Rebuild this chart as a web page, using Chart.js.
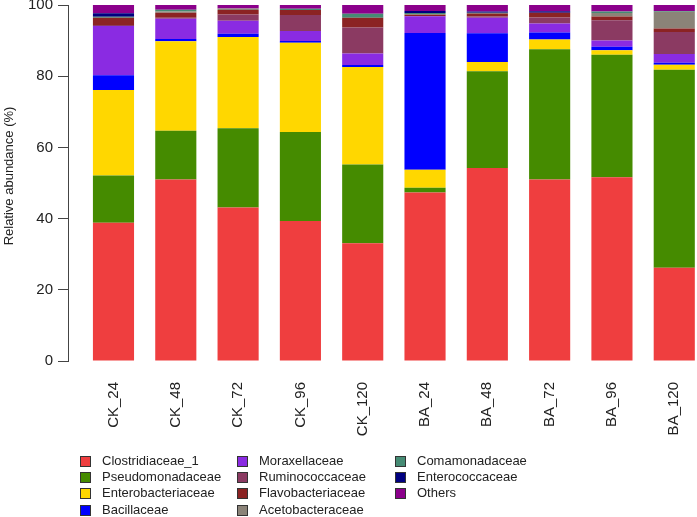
<!DOCTYPE html>
<html>
<head>
<meta charset="utf-8">
<script src="https://cdn.jsdelivr.net/npm/chart.js@4/dist/chart.umd.min.js"></script>
<style>
  html, body { margin: 0; padding: 0; background: #fff; overflow: hidden; }
  #wrap { position: relative; width: 697px; height: 517px; }
  #legend { position: absolute; left: 0; top: 0; width: 697px; height: 517px; pointer-events: none;
            font-family: "Liberation Sans", Arial, sans-serif; font-size: 13px; color: #222; }
  .li { position: absolute; height: 14px; line-height: 14px; white-space: nowrap; }
  .sw { position: absolute; left: 0; top: 2px; width: 9px; height: 9px; border: 1px solid #333; }
  .tx { position: absolute; left: 22px; top: 0; }
</style>
</head>
<body>
<div id="wrap">
  <canvas id="c" width="697" height="517"></canvas>
  <div id="legend"></div>
</div>
<script>
const categories = ["CK_24","CK_48","CK_72","CK_96","CK_120","BA_24","BA_48","BA_72","BA_96","BA_120"];
const yTicks = [0, 20, 40, 60, 80, 100];

const Clostridiaceae_1   = [38.8, 51.0, 43.1, 39.3, 33.1, 47.3, 54.2, 51.0, 51.6, 26.2];
const Pseudomonadaceae   = [13.3, 13.7, 22.3, 25.0, 22.1,  1.4, 27.2, 36.6, 34.4, 55.6];
const Enterobacteriaceae = [24.0, 25.1, 25.6, 25.1, 27.4,  5.05, 2.6,  2.7,  1.3,  1.4];
const Bacillaceae        = [ 4.2, 0.65, 0.95, 0.5, 0.55, 38.4, 8.05,  2.0,  1.0, 0.55];
const Moraxellaceae      = [13.8,  5.7, 3.65,  2.8,  3.2,  4.7,  4.4,  2.5,  1.7,  2.5];
const Ruminococcaceae    = [ 0.3,  0.3,  1.7,  4.5,  7.3,  0.0,  0.3,  1.7,  5.7,  6.2];
const Flavobacteriaceae  = [ 2.0,  1.4,  1.3,  1.4,  2.8,  0.4, 0.85,  1.3,  1.1, 0.95];
const Acetobacteraceae   = [ 0.0,  0.3,  0.4,  0.0,  0.0,  0.2,  0.0,  0.0, 0.95,  4.7];
const Comamonadaceae     = [ 0.3,  0.5,  0.0, 0.35,  1.1,  0.3,  0.2,  0.0, 0.45,  0.2];
const Enterococcaceae    = [0.95,  0.0,  0.0,  0.0,  0.0, 0.55,  0.4, 0.45,  0.0,  0.0];
const Others             = [ 2.35, 1.35, 1.0, 1.05, 2.45, 1.7,  1.8,  1.75, 1.8,  1.7];

const seriesNames = ["Clostridiaceae_1","Pseudomonadaceae","Enterobacteriaceae","Bacillaceae",
  "Moraxellaceae","Ruminococcaceae","Flavobacteriaceae","Acetobacteraceae",
  "Comamonadaceae","Enterococcaceae","Others"];
const seriesValues = [Clostridiaceae_1, Pseudomonadaceae, Enterobacteriaceae, Bacillaceae,
  Moraxellaceae, Ruminococcaceae, Flavobacteriaceae, Acetobacteraceae,
  Comamonadaceae, Enterococcaceae, Others];
const seriesColors = ["#EF3E3F","#458B00","#FFD700","#0000FF","#8A2BE2","#8B3A62",
  "#8B2323","#8B8378","#458B74","#000080","#8B008B"];

const FONT = '"Liberation Sans", Arial, sans-serif';

const datasets = seriesNames.map((name, k) => ({
  label: name,
  data: seriesValues[k].map((v, i) => ({ x: i, y: v })),
  backgroundColor: seriesColors[k],
  borderWidth: 0,
  barPercentage: 0.66,
  categoryPercentage: 1.0
}));

// draws the y-axis title where the reference puts it
const yTitlePlugin = {
  id: 'yTitle',
  afterDraw(chart, args, opts) {
    const ctx = chart.ctx;
    ctx.save();
    ctx.translate(opts.x, opts.y);
    ctx.rotate(-Math.PI / 2);
    ctx.font = '13px ' + FONT;
    ctx.fillStyle = '#222';
    ctx.textAlign = 'center';
    ctx.textBaseline = 'middle';
    ctx.fillText(opts.text, 0, 0);
    ctx.restore();
  }
};

const chart = new Chart(document.getElementById('c'), {
  type: 'bar',
  data: { datasets },
  plugins: [yTitlePlugin],
  options: {
    responsive: false,
    animation: false,
    devicePixelRatio: 1,
    layout: { padding: { top: 5, right: 0, bottom: 0, left: 0 } },
    plugins: {
      legend: { display: false },
      tooltip: { enabled: false },
      yTitle: { text: 'Relative abundance (%)', x: 9, y: 176 }
    },
    scales: {
      x: {
        type: 'linear',
        stacked: true,
        offset: false,
        min: -0.73,
        max: 9.365,
        grid: { display: false, drawTicks: false, offset: false },
        border: { display: false },
        afterBuildTicks: (s) => { s.ticks = categories.map((_, i) => ({ value: i })); },
        afterFit: (s) => { s.height = 156; s.paddingLeft = 0; s.paddingRight = 0; },
        ticks: {
          autoSkip: false,
          minRotation: 90,
          maxRotation: 90,
          padding: 21,
          color: '#222',
          font: { family: FONT, size: 15 },
          callback: (v) => categories[v] ?? ''
        }
      },
      y: {
        stacked: true,
        min: 0,
        max: 100,
        grid: { drawOnChartArea: false, drawTicks: true, tickLength: 10, color: '#444' },
        border: { display: true, color: '#444', width: 1 },
        afterBuildTicks: (s) => { s.ticks = yTicks.map(v => ({ value: v })); },
        afterFit: (s) => { s.width = 68; s.paddingTop = 0; s.paddingBottom = 0; },
        ticks: {
          padding: 5,
          color: '#222',
          font: { family: FONT, size: 15 }
        }
      }
    }
  }
});

// HTML legend built from the chart's datasets (column-major, 3 columns, 4 rows)
const colX = [80, 237, 395];
const rowY = [454, 469.5, 485.5, 503];
const legendEl = document.getElementById('legend');
chart.data.datasets.forEach((ds, k) => {
  const col = Math.floor(k / 4), row = k % 4;
  const item = document.createElement('div');
  item.className = 'li';
  item.style.left = colX[col] + 'px';
  item.style.top = rowY[row] + 'px';
  const sw = document.createElement('div');
  sw.className = 'sw';
  sw.style.background = ds.backgroundColor;
  const tx = document.createElement('div');
  tx.className = 'tx';
  tx.textContent = ds.label;
  item.appendChild(sw); item.appendChild(tx);
  legendEl.appendChild(item);
});
</script>
</body>
</html>
